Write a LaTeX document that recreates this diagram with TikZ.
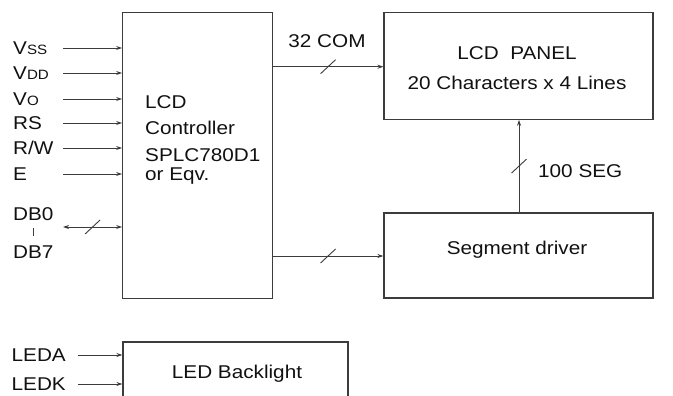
\documentclass[tikz,border=0pt]{standalone}
\usepackage{fontspec}
\setmainfont[FakeStretch=1.12]{Liberation Sans}
\usetikzlibrary{arrows.meta,calc}
\definecolor{ln}{HTML}{3C3C3C}
\definecolor{tx}{HTML}{111111}
\tikzset{
  blk/.style={draw=ln,line width=1.1pt,rectangle,inner sep=0pt},
  lbl/.style={inner sep=0pt,text=tx,font=\fontsize{18.5}{20}\selectfont,anchor=base west},
  clbl/.style={inner sep=0pt,text=tx,font=\fontsize{18.5}{20}\selectfont,anchor=base},
  wire/.style={draw=ln,line width=0.9pt},
  arr/.style={wire,-{Stealth[length=6pt,width=4pt]}},
  darr/.style={wire,{Stealth[length=6pt,width=4pt]}-{Stealth[length=6pt,width=4pt]}},
  slashmark/.style={draw=ln,line width=0.9pt}
}
\newcommand{\sm}[1]{{\fontsize{13.5}{14}\selectfont #1}}
\begin{document}
\begin{tikzpicture}[x=1pt,y=-1pt]
\clip (0,0) rectangle (673,396);
\fill[white] (0,0) rectangle (673,396);
% blocks
\node[blk,minimum width=150pt,minimum height=286pt] (ctrl) at (197.7,155.3) {};
\node[blk,minimum width=269pt,minimum height=106.5pt] (panel) at (518.5,66) {};
\node[blk,minimum width=269pt,minimum height=85pt] (seg) at (518.5,255.5) {};
\node[blk,minimum width=225pt,minimum height=70pt] (led) at (235.5,377) {};
% texts in blocks
\node[lbl] (t1) at (145,108.5) {LCD};
\node[lbl] (t2) at (145,135) {Controller};
\node[lbl] (t3) at (145,161) {SPLC780D1};
\node[lbl] (t4) at (145,180.5) {or Eqv.};
\node[clbl] (p1) at (517,59.5) {LCD\ \ PANEL};
\node[clbl] (p2) at (517,89.5) {20 Characters x 4 Lines};
\node[clbl] (s1) at (517,254.5) {Segment driver};
\node[clbl] (l1) at (237,378.5) {LED Backlight};
% input labels
\node[lbl] (lvss) at (13,54.5) {V\sm{SS}};
\node[lbl] (lvdd) at (13,79.5) {V\sm{DD}};
\node[lbl] (lvo) at (13,105.5) {V\sm{O}};
\node[lbl] (lrs) at (13,129.5) {RS};
\node[lbl] (lrw) at (13,154.5) {R/W};
\node[lbl] (le) at (13,180.5) {E};
\node[lbl] (ldb0) at (13,220.5) {DB0};
\node[lbl] (ldb7) at (13,258.5) {DB7};
\node[lbl] (lleda) at (11.5,361.5) {LEDA};
\node[lbl] (lledk) at (11.5,390.5) {LEDK};
% input wire starts
\coordinate (ivss) at (63,48);
\coordinate (ivdd) at (63,73);
\coordinate (ivo) at (63,99);
\coordinate (irs) at (63,123);
\coordinate (irw) at (63,148);
\coordinate (ie) at (63,174);
\coordinate (idb) at (63,227);
\coordinate (ileda) at (78,355);
\coordinate (iledk) at (78,384);
\foreach \c in {ivss,ivdd,ivo,irs,irw,ie}{
  \draw[arr] (\c) -- (\c -| ctrl.west);
}
\draw[darr] (idb) -- (idb -| ctrl.west);
\draw[slashmark] ($(idb)!0.5!(idb -| ctrl.west)$) ++(-7.5,7) -- ++(15,-14);
\draw[arr] (ileda) -- (ileda -| led.west);
\draw[arr] (iledk) -- (iledk -| led.west);
% DB bar
\draw[wire] (33,228) -- (33,236);
% controller to panel
\coordinate (com) at ($(ctrl.east)!0!(ctrl.east)$);
\coordinate (comy) at (272.7,66.7);
\draw[arr] (comy) -- (comy -| panel.west);
\draw[slashmark] ($(comy)!0.5!(comy -| panel.west)$) ++(-7.5,7) -- ++(15,-14);
\node[clbl] (lcom) at (327,47.5) {32 COM};
% controller to segment driver
\coordinate (segy) at (272.7,256);
\draw[arr] (segy) -- (segy -| seg.west);
\draw[slashmark] ($(segy)!0.5!(segy -| seg.west)$) ++(-7.5,7) -- ++(15,-14);
% segment driver to panel
\coordinate (sx) at (519,0);
\draw[arr] (sx |- seg.north) -- (sx |- panel.south);
\draw[slashmark] ($(sx |- seg.north)!0.5!(sx |- panel.south)$) ++(-7.5,7) -- ++(15,-14);
\node[lbl] (lseg) at (538,177.5) {100 SEG};
\end{tikzpicture}
\end{document}
